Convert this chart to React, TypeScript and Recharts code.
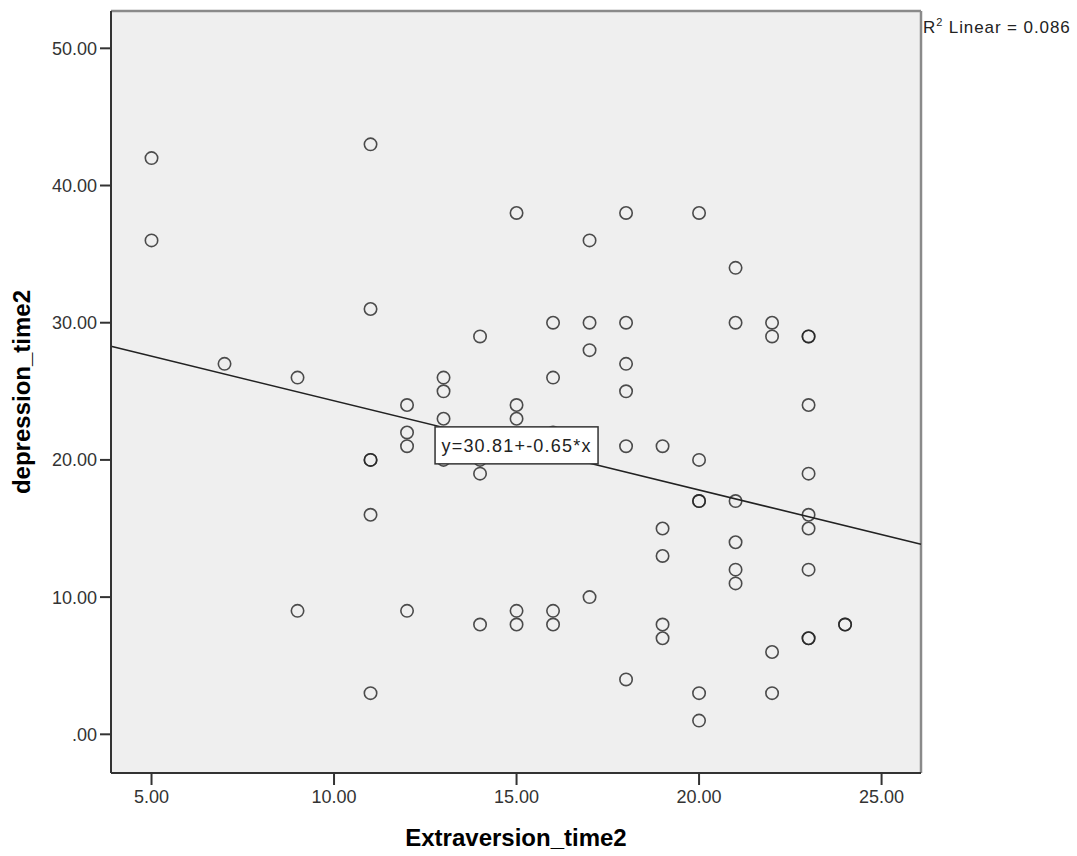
import { ScatterChart, Scatter, XAxis, YAxis, CartesianGrid, ReferenceLine, ReferenceDot } from "recharts";

// one entry per case (duplicates = overlapping circles)
const extraversion = [
  5, 5,
  7,
  9, 9,
  11, 11, 11, 11, 11, 11,
  12, 12, 12, 12,
  13, 13, 13, 13,
  14, 14, 14, 14,
  15, 15, 15, 15, 15,
  16, 16, 16, 16, 16,
  17, 17, 17, 17,
  18, 18, 18, 18, 18, 18,
  19, 19, 19, 19, 19,
  20, 20, 20, 20, 20, 20,
  21, 21, 21, 21, 21, 21,
  22, 22, 22, 22,
  23, 23, 23, 23, 23, 23, 23, 23, 23,
  24, 24,
];
const depression = [
  42, 36,
  27,
  26, 9,
  43, 31, 20, 20, 16, 3,
  24, 22, 21, 9,
  26, 25, 23, 20,
  29, 20, 19, 8,
  38, 24, 23, 9, 8,
  30, 26, 22, 9, 8,
  36, 30, 28, 10,
  38, 30, 27, 25, 21, 4,
  21, 15, 13, 8, 7,
  38, 20, 17, 17, 3, 1,
  34, 30, 17, 14, 12, 11,
  30, 29, 6, 3,
  29, 29, 24, 19, 16, 15, 12, 7, 7,
  8, 8,
];

const xTicks = [5, 10, 15, 20, 25];
const yTicks = [0, 10, 20, 30, 40, 50];

const intercept = 30.81;
const slope = -0.65;
const rSquared = 0.086;
const equationAtX = 15;

const xDomain: [number, number] = [3.89, 26.08];
const yDomain: [number, number] = [-2.82, 52.72];

const font = "'Liberation Sans', Arial, sans-serif";

const points = extraversion.map((x, i) => ({ x, y: depression[i] }));
const fit = (x: number) => intercept + slope * x;

const fmt = (v: number) => (v === 0 ? ".00" : v.toFixed(2));

const Ring = (p: any) => (
  <circle cx={p.cx} cy={p.cy} r={6.2} fill="none" stroke="#222" strokeWidth={1.6} strokeOpacity={0.8} />
);

const EquationBox = (p: any) => (
  <g>
    <rect x={p.cx - 81.5} y={p.cy - 18.5} width={163} height={37} fill="#fff" stroke="#333" strokeWidth={1.5} />
    <text
      x={p.cx}
      y={p.cy + 6.5}
      textAnchor="middle"
      fontFamily={font}
      fontSize={18}
      letterSpacing={1.2}
      fill="#222"
    >
      {`y=${intercept.toFixed(2)}+${slope.toFixed(2)}*x`}
    </text>
  </g>
);

export default function App() {
  return (
    <div style={{ position: "absolute", left: 0, top: 0, background: "#fff" }}>
      <ScatterChart width={1077} height={856} margin={{ top: 11, right: 156, bottom: 0, left: 0 }}>
        <CartesianGrid horizontal={false} vertical={false} fill="#efefef" />
        <XAxis
          type="number"
          dataKey="x"
          domain={xDomain}
          ticks={xTicks}
          allowDataOverflow
          tickFormatter={fmt}
          height={83}
          tickSize={12}
          tickMargin={5}
          axisLine={{ stroke: "#333", strokeWidth: 2 }}
          tickLine={{ stroke: "#333", strokeWidth: 2 }}
          tick={{ fill: "#333", fontSize: 18, fontFamily: font }}
          label={(props: any) => {
            const vb = props.viewBox;
            return (
              <text
                x={vb.x + vb.width / 2}
                y={vb.y + 73}
                textAnchor="middle"
                fontFamily={font}
                fontWeight="bold"
                fontSize={24}
                fill="#000"
              >
                Extraversion_time2
              </text>
            );
          }}
        />
        <YAxis
          type="number"
          dataKey="y"
          domain={yDomain}
          ticks={yTicks}
          allowDataOverflow
          tickFormatter={fmt}
          width={111}
          tickSize={11}
          tickMargin={3}
          axisLine={{ stroke: "#333", strokeWidth: 2 }}
          tickLine={{ stroke: "#333", strokeWidth: 2 }}
          tick={{ fill: "#333", fontSize: 18, fontFamily: font }}
          label={(props: any) => {
            const vb = props.viewBox;
            const cx = vb.x + 30;
            const cy = vb.y + vb.height / 2;
            return (
              <text
                x={cx}
                y={cy}
                transform={`rotate(-90 ${cx} ${cy})`}
                textAnchor="middle"
                fontFamily={font}
                fontWeight="bold"
                fontSize={24}
                fill="#000"
              >
                depression_time2
              </text>
            );
          }}
        />
        <ReferenceLine y={yDomain[1]} stroke="#8a8a8a" strokeWidth={2.5} ifOverflow="visible" />
        <ReferenceLine
          x={xDomain[1]}
          stroke="#8a8a8a"
          strokeWidth={2.5}
          ifOverflow="visible"
          label={(props: any) => {
            const vb = props.viewBox;
            return (
              <text x={vb.x + 2} y={vb.y + 22} fontFamily={font} fontSize={17} letterSpacing={0.9} fill="#222">
                R<tspan fontSize={11} dy={-7}>2</tspan>
                <tspan dy={7}>{` Linear = ${rSquared.toFixed(3)}`}</tspan>
              </text>
            );
          }}
        />
        <ReferenceLine
          segment={[
            { x: xDomain[0], y: fit(xDomain[0]) },
            { x: xDomain[1], y: fit(xDomain[1]) },
          ]}
          stroke="#222"
          strokeWidth={1.6}
          ifOverflow="visible"
        />
        <Scatter data={points} shape={Ring} isAnimationActive={false} />
        <ReferenceDot x={equationAtX} y={fit(equationAtX)} shape={EquationBox} ifOverflow="visible" />
      </ScatterChart>
    </div>
  );
}
